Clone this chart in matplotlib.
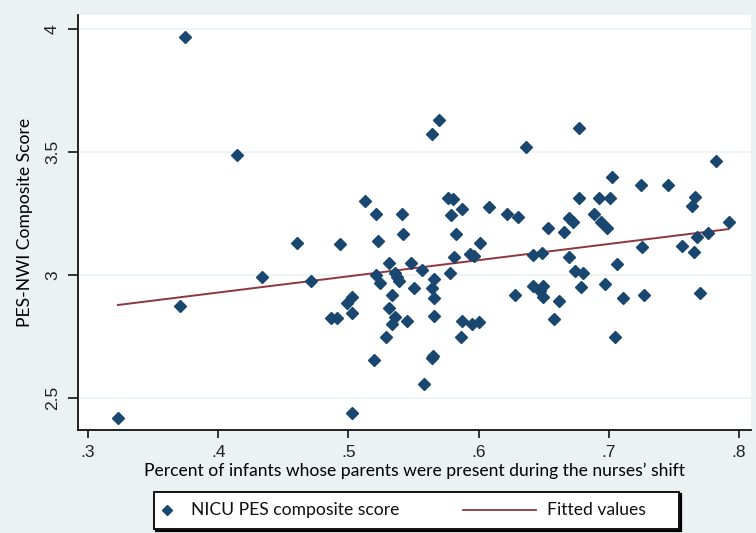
import matplotlib
matplotlib.use("Agg")
import matplotlib.pyplot as plt
from matplotlib.lines import Line2D
from matplotlib.patches import Rectangle
import numpy as np

# Data
parents_present = [
    0.323, 0.3745, 0.4147, 0.3707, 0.4334, 0.471, 0.4602, 0.4938, 0.513, 0.521,
    0.5225, 0.4867, 0.491, 0.4986, 0.5025, 0.503, 0.520, 0.5025, 0.5215, 0.524,
    0.5412, 0.5422, 0.531, 0.5483, 0.5355, 0.537, 0.539, 0.5565, 0.5506, 0.5335,
    0.531, 0.536, 0.5335, 0.5447, 0.5286, 0.5578, 0.5696, 0.5642, 0.6364, 0.5763,
    0.580, 0.5875, 0.5788, 0.608, 0.6215, 0.630, 0.5826, 0.601, 0.653, 0.5813,
    0.5934, 0.5965, 0.642, 0.649, 0.5777, 0.5657, 0.5645, 0.6415, 0.6497, 0.5655,
    0.5655, 0.5875, 0.5946, 0.600, 0.5862, 0.5642, 0.5652, 0.628, 0.647, 0.6497,
    0.658, 0.662, 0.6738, 0.6804, 0.6789, 0.6973, 0.706, 0.7112, 0.7047, 0.7267,
    0.7697, 0.6769, 0.782, 0.7022, 0.7247, 0.7452, 0.6769, 0.6927, 0.7012, 0.7662,
    0.7636, 0.6694, 0.6727, 0.6888, 0.6937, 0.6988, 0.6656, 0.792, 0.7759, 0.7674,
    0.7559, 0.7257, 0.7654, 0.6697,
]
pes_score = [
    2.42, 3.966, 3.487, 2.873, 2.991, 2.976, 3.130, 3.125, 3.30, 3.248,
    3.137, 2.827, 2.827, 2.885, 2.912, 2.847, 2.654, 2.44, 3.0, 2.969,
    3.249, 3.165, 3.047, 3.049, 3.009, 2.993, 2.976, 3.02, 2.946, 2.919,
    2.866, 2.831, 2.801, 2.814, 2.75, 2.556, 3.629, 3.572, 3.52, 3.314,
    3.307, 3.269, 3.242, 3.276, 3.249, 3.237, 3.165, 3.131, 3.19, 3.074,
    3.085, 3.077, 3.081, 3.088, 3.009, 2.984, 2.948, 2.955, 2.955, 2.905,
    2.835, 2.814, 2.801, 2.808, 2.75, 2.662, 2.672, 2.918, 2.935, 2.912,
    2.821, 2.893, 3.016, 3.009, 2.95, 2.963, 3.046, 2.905, 2.75, 2.92,
    2.926, 3.597, 3.462, 3.397, 3.365, 3.365, 3.314, 3.314, 3.314, 3.315,
    3.28, 3.23, 3.216, 3.248, 3.215, 3.19, 3.176, 3.215, 3.172, 3.153,
    3.119, 3.114, 3.093, 3.074,
]
x_ticks = [0.3, 0.4, 0.5, 0.6, 0.7, 0.8]
x_tick_labels = [".3", ".4", ".5", ".6", ".7", ".8"]
y_ticks = [2.5, 3.0, 3.5, 4.0]
y_tick_labels = ["2.5", "3", "3.5", "4"]
legend_labels = ["NICU PES composite score", "Fitted values"]

x = np.array(parents_present)
y = np.array(pes_score)
slope, intercept = np.polyfit(x, y, 1)
x_fit = np.array([x.min(), x.max()])
y_fit = intercept + slope * x_fit

BG = "#EAF2F3"
NAVY = "#1A476F"
MAROON = "#90353B"

W, H = 756, 533
fig = plt.figure(figsize=(W / 100, H / 100), dpi=100, facecolor=BG)
ax = fig.add_axes([78 / W, (H - 430) / H, (751 - 78) / W, (430 - 15) / H])
ax.set_facecolor("white")

for yt in y_ticks:
    ax.axhline(yt, color=BG, lw=1.2, zorder=0)

ax.plot(x, y, linestyle="none", marker="D", ms=6.3, color=NAVY,
        markeredgecolor=NAVY, zorder=3)
ax.plot(x_fit, y_fit, color=MAROON, lw=1.4, zorder=2)

ax.set_xlim(0.2923, 0.8092)
ax.set_ylim(2.371, 4.0556)

for s in ["top", "right"]:
    ax.spines[s].set_visible(False)
for s in ["left", "bottom"]:
    ax.spines[s].set_color("#111111")
    ax.spines[s].set_linewidth(1.3)

tick_font = {"family": "Liberation Sans", "size": 12.5}
ax.set_xticks(x_ticks)
ax.set_xticklabels(x_tick_labels, fontdict=tick_font, color="#222222")
ax.set_yticks(y_ticks)
ax.set_yticklabels(y_tick_labels, fontdict=tick_font, rotation=90,
                   va="center", color="#222222")
ax.tick_params(axis="x", length=5.5, width=1.2, color="#111111", pad=5)
ax.tick_params(axis="y", length=7, width=1.2, color="#111111", pad=6)

label_font = {"family": "Lato", "size": 12.6}
ax.set_xlabel("Percent of infants whose parents were present during the nurses\u2019 shift",
              fontdict=label_font, labelpad=2)
ax.set_ylabel("PES-NWI Composite Score", fontdict=label_font)
ax.yaxis.set_label_coords((33 - 78) / (751 - 78), 0.5)

# Legend box (drawn in figure pixel positions)
def fx(px):
    return px / W

def fy(py):
    return 1 - py / H

fig.add_artist(Rectangle((fx(155.5), fy(530.5)), 525 / W, 37 / H,
                         transform=fig.transFigure, facecolor="none",
                         edgecolor="black", lw=1.6))
fig.add_artist(Rectangle((fx(154), fy(529)), 525 / W, 37 / H,
                         transform=fig.transFigure, facecolor="white",
                         edgecolor="black", lw=1.3))
leg_y = fy(510)
fig.add_artist(Line2D([fx(167)], [leg_y], marker="D", ms=5.2, color=NAVY,
                      linestyle="none", transform=fig.transFigure))
fig.text(fx(191), leg_y, legend_labels[0], ha="left", va="center",
         family="Lato", size=12.6, color="#111111")
fig.add_artist(Line2D([fx(463), fx(536)], [leg_y, leg_y], color=MAROON, lw=1.3,
                      transform=fig.transFigure))
fig.text(fx(547), leg_y, legend_labels[1], ha="left", va="center",
         family="Lato", size=12.6, color="#111111")

fig.savefig("out.png", dpi=100, facecolor=BG)
